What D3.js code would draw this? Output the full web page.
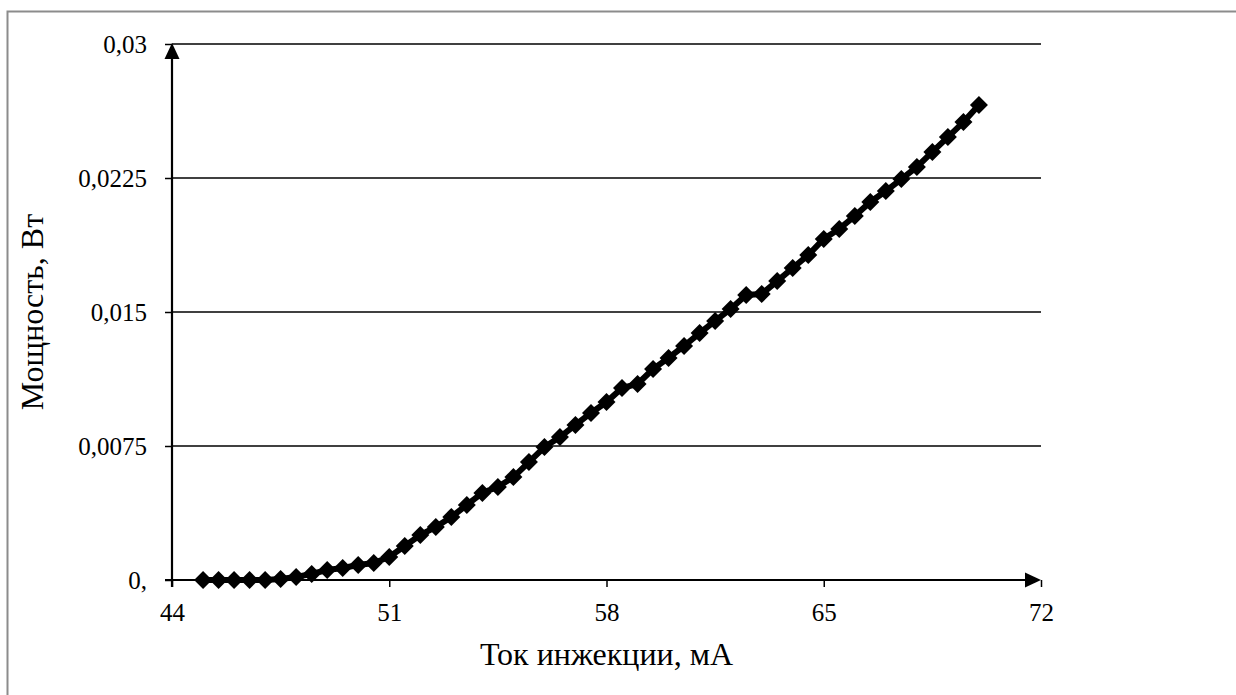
<!DOCTYPE html>
<html>
<head>
<meta charset="utf-8">
<script src="https://cdn.jsdelivr.net/npm/d3@7"></script>
<style>
  body { margin: 0; background: #fff; }
  text { font-family: "Liberation Serif", "Times New Roman", serif; fill: #000; }
</style>
</head>
<body>
<svg width="1236" height="695"></svg>
<script>
// injection current, mA
let current = [
  45, 45.5, 46, 46.5, 47, 47.5, 48, 48.5, 49, 49.5,
  50, 50.5, 51, 51.5, 52, 52.5, 53, 53.5, 54, 54.5,
  55, 55.5, 56, 56.5, 57, 57.5, 58, 58.5, 59, 59.5,
  60, 60.5, 61, 61.5, 62, 62.5, 63, 63.5, 64, 64.5,
  65, 65.5, 66, 66.5, 67, 67.5, 68, 68.5, 69, 69.5, 70
];
// output power, W
let power = [
  0, 0, 0, 0, 0, 0.00006, 0.00017, 0.00034, 0.00056, 0.00067,
  0.00084, 0.00095, 0.00129, 0.0019, 0.00252, 0.00297, 0.00353, 0.0042, 0.00487, 0.00521,
  0.00576, 0.0066, 0.00744, 0.008, 0.00868, 0.00935, 0.00996, 0.01075, 0.01097, 0.01181,
  0.01243, 0.0131, 0.01382, 0.0145, 0.01517, 0.01595, 0.01601, 0.01673, 0.01746, 0.01819,
  0.01909, 0.01965, 0.02037, 0.02116, 0.02177, 0.02244, 0.02312, 0.02396, 0.02479, 0.02563, 0.02659
];
let xTicks = [44, 51, 58, 65, 72];
let yTicks = [0, 0.0075, 0.015, 0.0225, 0.03];
let yTickLabels = ["0,", "0,0075", "0,015", "0,0225", "0,03"];

let data = current.map((c, i) => ({ x: c, y: power[i] }));

let svg = d3.select("svg");
let mLeft = 172, mRight = 1041, mTop = 44, mBottom = 580;

let x = d3.scaleLinear().domain([44, 72]).range([mLeft, mRight]);
let y = d3.scaleLinear().domain([0, 0.03]).range([mBottom, mTop]);

// outer frame
svg.append("rect")
  .attr("x", 7.5).attr("y", 11.5)
  .attr("width", 1240).attr("height", 700)
  .style("fill", "none")
  .style("stroke", "#8c8c8c")
  .style("stroke-width", 2);

// gridlines
svg.append("g")
  .selectAll("line")
  .data(yTicks.slice(1))
  .join("line")
  .attr("x1", mLeft).attr("x2", mRight)
  .attr("y1", (d) => y(d)).attr("y2", (d) => y(d))
  .style("stroke", "#000")
  .style("stroke-width", 1.3);

// axes
let yAxis = d3.axisLeft(y)
  .tickValues(yTicks)
  .tickFormat((d, i) => yTickLabels[i])
  .tickSize(7)
  .tickPadding(18);
let gy = svg.append("g").attr("transform", `translate(${mLeft},0)`).call(yAxis);

let xAxis = d3.axisBottom(x)
  .tickValues(xTicks)
  .tickFormat(d3.format("d"))
  .tickSize(7)
  .tickPadding(16);
let gx = svg.append("g").attr("transform", `translate(0,${mBottom})`).call(xAxis);

[gx, gy].forEach((g) => {
  g.select(".domain").remove();
  g.selectAll(".tick line").style("stroke", "#000").style("stroke-width", 1.5);
  g.selectAll("text").style("font-size", "25px").style("font-family", "Liberation Serif, serif");
});

// axis lines with arrows
svg.append("line")
  .attr("x1", mLeft - 7).attr("x2", mRight - 10)
  .attr("y1", mBottom).attr("y2", mBottom)
  .style("stroke", "#000").style("stroke-width", 2.2);
svg.append("line")
  .attr("x1", mLeft).attr("x2", mLeft)
  .attr("y1", mBottom + 7).attr("y2", mTop + 10)
  .style("stroke", "#000").style("stroke-width", 2.2);
svg.append("path")
  .attr("d", `M${mRight},${mBottom} L${mRight - 16},${mBottom - 7.5} L${mRight - 16},${mBottom + 7.5} Z`)
  .style("fill", "#000");
svg.append("path")
  .attr("d", `M${mLeft},${mTop - 1} L${mLeft - 7.5},${mTop + 15} L${mLeft + 7.5},${mTop + 15} Z`)
  .style("fill", "#000");

// series
let line = d3.line().x((d) => x(d.x)).y((d) => y(d.y));
svg.append("path")
  .datum(data)
  .attr("d", line)
  .style("fill", "none")
  .style("stroke", "#000")
  .style("stroke-width", 6);

let r = 9;
svg.append("g")
  .selectAll("path")
  .data(data)
  .join("path")
  .attr("transform", (d) => `translate(${x(d.x)},${y(d.y)})`)
  .attr("d", `M0,${-r} L${r},0 L0,${r} L${-r},0 Z`)
  .style("fill", "#000");

// titles
svg.append("text")
  .attr("x", (mLeft + mRight) / 2)
  .attr("y", 665)
  .attr("text-anchor", "middle")
  .style("font-size", "32px")
  .text("Ток инжекции, мА");

svg.append("text")
  .attr("transform", `translate(43,${(mTop + mBottom) / 2}) rotate(-90)`)
  .attr("text-anchor", "middle")
  .style("font-size", "32px")
  .text("Мощность, Вт");
</script>
</body>
</html>
